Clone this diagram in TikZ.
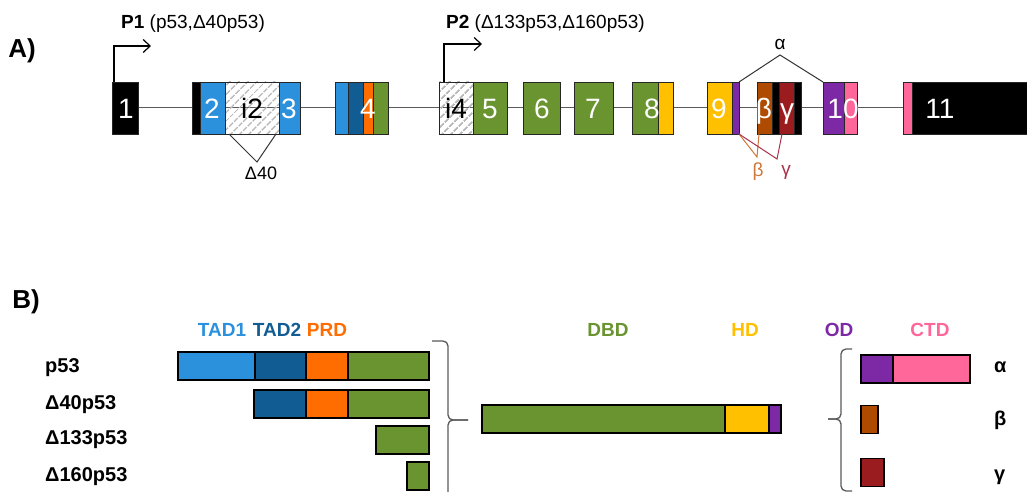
\documentclass[tikz,border=0pt]{standalone}
\usepackage{fontspec}
\setmainfont{Liberation Sans}
\usetikzlibrary{positioning,calc,backgrounds,patterns.meta,arrows.meta}
\definecolor{tadone}{RGB}{43,145,220}
\definecolor{tadtwo}{RGB}{18,92,148}
\definecolor{prd}{RGB}{255,108,0}
\definecolor{dbd}{RGB}{105,148,48}
\definecolor{hd}{RGB}{255,192,0}
\definecolor{od}{RGB}{125,40,165}
\definecolor{ctd}{RGB}{255,102,153}
\definecolor{betabox}{RGB}{175,75,0}
\definecolor{gammabox}{RGB}{155,28,30}
\definecolor{betaline}{RGB}{205,120,60}
\definecolor{gammaline}{RGB}{170,50,75}
\definecolor{intron}{RGB}{90,90,90}

\begin{document}
\begin{tikzpicture}[
x=1pt, y=-1pt,
node distance=0pt,
seg/.style={rectangle, draw=black!85, line width=0.9pt, minimum height=52pt, inner sep=0pt, outer sep=0pt},
hatch/.style={seg, pattern={Lines[angle=45,distance=6.5pt,line width=1.9pt]}, pattern color=gray!55},
num/.style={inner sep=0pt, anchor=base, text=white, font=\fontsize{28}{30}\selectfont},
prom/.style={draw=black, line width=1.2pt, -{Straight Barb[length=7pt,width=13pt]}},
small/.style={inner sep=0pt, font=\fontsize{19}{22}\selectfont},
bar/.style={rectangle, draw=black, line width=1.8pt, inner sep=0pt, outer sep=0pt, minimum height=28pt},
head/.style={inner sep=0pt, font=\bfseries\fontsize{19}{22}\selectfont},
iso/.style={inner sep=0pt, anchor=west, font=\bfseries\fontsize{20}{22}\selectfont},
brace/.style={draw=black!65, line width=1.3pt, rounded corners=5pt}
]
\useasboundingbox (0,0) rectangle (1027,492);

\node[inner sep=0pt, font=\bfseries\fontsize{26}{28}\selectfont] (pa) at (22,51) {A)};
\node[inner sep=0pt, font=\bfseries\fontsize{26}{28}\selectfont] (pb) at (26,302) {B)};

\node[seg, fill=black, minimum width=26pt, anchor=west] (e1) at (112,108) {};
\node[seg, fill=black, minimum width=8pt, anchor=west] (e2a) at (192,108) {};
\node[seg, fill=tadone, minimum width=25pt, right=of e2a] (e2b) {};
\node[hatch, minimum width=54pt, right=of e2b] (i2) {};
\node[seg, fill=tadone, minimum width=21pt, right=of i2] (e3) {};
\node[seg, fill=tadone, minimum width=13pt, anchor=west] (e4a) at (335,108) {};
\node[seg, fill=tadtwo, minimum width=15pt, right=of e4a] (e4b) {};
\node[seg, fill=prd, minimum width=10pt, right=of e4b] (e4c) {};
\node[seg, fill=dbd, minimum width=15pt, right=of e4c] (e4d) {};
\node[hatch, minimum width=34pt, anchor=west] (i4) at (439,108) {};
\node[seg, fill=dbd, minimum width=34pt, right=of i4] (e5) {};
\node[seg, fill=dbd, minimum width=37pt, anchor=west] (e6) at (523,108) {};
\node[seg, fill=dbd, minimum width=39pt, anchor=west] (e7) at (574,108) {};
\node[seg, fill=dbd, minimum width=26pt, anchor=west] (e8a) at (632,108) {};
\node[seg, fill=hd, minimum width=15pt, right=of e8a] (e8b) {};
\node[seg, fill=hd, minimum width=25pt, anchor=west] (e9a) at (707,108) {};
\node[seg, fill=od, minimum width=7pt, right=of e9a] (e9b) {};
\node[seg, fill=betabox, minimum width=15pt, anchor=west] (eb) at (757,108) {};
\node[seg, fill=black, minimum width=7pt, right=of eb] (ebg) {};
\node[seg, fill=gammabox, minimum width=15pt, right=of ebg] (eg) {};
\node[seg, fill=black, minimum width=7pt, right=of eg] (ege) {};
\node[seg, fill=od, minimum width=21pt, anchor=west] (e10a) at (823,108) {};
\node[seg, fill=ctd, minimum width=13pt, right=of e10a] (e10b) {};
\node[seg, fill=ctd, minimum width=9pt, anchor=west] (e11a) at (903,108) {};
\node[seg, fill=black, minimum width=116pt, right=of e11a] (e11b) {};

\begin{scope}[on background layer]
\draw[intron, line width=1pt] (e1.east) -- (e11a.west);
\end{scope}

\foreach \t/\x [count=\i] in {1/126, 2/212, 3/289, 4/368, 5/490, 6/542, 7/593, 8/652, 9/719, β/764, γ/787, 10/843, 11/940}
  \node[num] (n\i) at (\x,118) {\t};
\node[num, text=black] (ni2) at (252,118) {i2};
\node[num, text=black] (ni4) at (456,118) {i4};

\coordinate (p1tip) at (151,46);
\coordinate (p2tip) at (482,44);
\draw[prom] ([xshift=2pt]e1.north west) |- (p1tip);
\draw[prom] ([xshift=5pt]i4.north west) |- (p2tip);
\node[small, anchor=west] (p1) at (121,24) {\textbf{P1} (p53,Δ40p53)};
\node[small, anchor=west] (p2) at (446,24) {\textbf{P2} (Δ133p53,Δ160p53)};

\coordinate (d40) at (257,162);
\draw[black!80, line width=1pt] ([xshift=4pt]i2.south west) -- (d40) -- ([xshift=-3pt]i2.south east);
\node[small, font=\fontsize{18}{20}\selectfont] (d40lab) at (261,173) {Δ40};

\coordinate (alpha) at (780,55);
\draw[black!80, line width=1pt] (e9b.north east) -- (alpha) -- (e10a.north west);
\node[small] (alab) at (780,44) {α};

\coordinate (bpt) at (757,157);
\coordinate (gpt) at (777,159);
\draw[betaline, line width=1pt] (e9b.south east) -- (bpt) -- ([xshift=2pt]eb.south west);
\draw[gammaline, line width=1pt] (e9b.south east) -- (gpt) -- ([xshift=3pt]eg.south west);
\node[small, text=betaline] (blab) at (758,172) {β};
\node[small, text=gammaline] (glab) at (786,172) {γ};

\node[head, text=tadone] (htad1) at (222,330) {TAD1};
\node[head, text=tadtwo] (htad2) at (277,330) {TAD2};
\node[head, text=prd] (hprd) at (327,330) {PRD};
\node[head, text=dbd] (hdbd) at (608,330) {DBD};
\node[head, text=hd] (hhd) at (745,330) {HD};
\node[head, text=od] (hod) at (839,330) {OD};
\node[head, text=ctd] (hctd) at (930,330) {CTD};

\node[iso] (lp53) at (45,368) {p53};
\node[iso] (ld40) at (45,405) {Δ40p53};
\node[iso] (ld133) at (45,440) {Δ133p53};
\node[iso] (ld160) at (45,477) {Δ160p53};

\node[bar, fill=tadone, minimum width=77pt, anchor=west] (fa1) at (178,366) {};
\node[bar, fill=tadtwo, minimum width=51pt, right=of fa1] (fa2) {};
\node[bar, fill=prd, minimum width=42pt, right=of fa2] (fa3) {};
\node[bar, fill=dbd, minimum width=81pt, right=of fa3] (fa4) {};
\node[bar, fill=tadtwo, minimum width=52pt, anchor=west] (da2) at (254,404) {};
\node[bar, fill=prd, minimum width=42pt, right=of da2] (da3) {};
\node[bar, fill=dbd, minimum width=81pt, right=of da3] (da4) {};
\node[bar, fill=dbd, minimum width=53pt, anchor=west] (ta4) at (376,440) {};
\node[bar, fill=dbd, minimum width=22pt, anchor=west] (sa4) at (407,476) {};

\node[bar, fill=dbd, minimum width=243pt, anchor=west] (mid1) at (482,419) {};
\node[bar, fill=hd, minimum width=44pt, right=of mid1] (mid2) {};
\node[bar, fill=od, minimum width=12pt, right=of mid2] (mid3) {};

\node[bar, fill=od, minimum width=32pt, anchor=west] (ca1) at (861,369) {};
\node[bar, fill=ctd, minimum width=77pt, right=of ca1] (ca2) {};
\node[bar, fill=betabox, minimum width=17pt, anchor=west] (cb) at (861,419.5) {};
\node[bar, fill=gammabox, minimum width=23pt, anchor=west] (cg) at (861,472.5) {};

\node[iso] (la) at (994,367) {α};
\node[iso] (lb) at (994,420) {β};
\node[iso] (lg) at (994,477) {γ};

\draw[brace] (432,341) -- (448,341) -- (448,420) -- (468,420);
\draw[brace] (448,505) -- (448,420) -- (468,420);
\draw[brace] (852,349) -- (841,349) -- (841,419) -- (828,419);
\draw[brace] (852,491) -- (841,491) -- (841,419) -- (828,419);
\end{tikzpicture}
\end{document}
